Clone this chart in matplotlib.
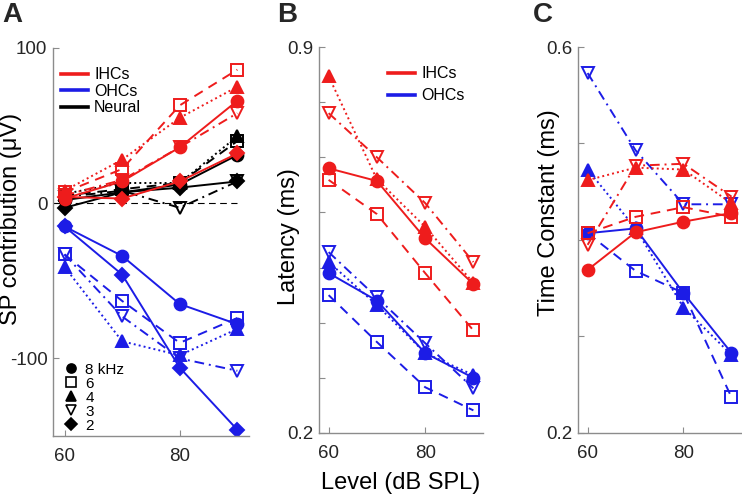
"""SP contribution / latency / time constant vs level, IHC vs OHC (3 panels)."""
import matplotlib
matplotlib.use('Agg')
import matplotlib.pyplot as plt
from matplotlib.lines import Line2D

plt.rcParams['font.family'] = ['Liberation Sans', 'DejaVu Sans']

# === data ===
LEVELS = [60, 70, 80, 90]
FREQS = [8, 6, 4, 3, 2]           # kHz, one row per frequency
FREQ_LABELS = ['8 kHz', '6', '4', '3', '2']

# panel A: SP contribution (uV)
SP_IHC = [[3, 14, 36, 66],
          [7, 22, 63, 86],
          [8, 28, 55, 75],
          [5, 15, 36, 58],
          [4, 3, 14, 32]]
SP_OHC = [[-15, -34, -65, -78],
          [-33, -63, -90, -74],
          [-41, -89, -98, -81],
          [-33, -73, -100, -108],
          [-15, -46, -106, -146]]
SP_NEURAL = [[2, 7, 12, 31],
             [5, 9, 13, 40],
             [6, 13, 13, 43],
             [4, 8, -3, 14],
             [-3, 7, 10, 14]]

# panel B: latency (ms), 8/6/4/3 kHz
LAT_IHC = [[0.680, 0.657, 0.553, 0.470],
           [0.659, 0.597, 0.490, 0.386],
           [0.847, 0.660, 0.574, 0.472],
           [0.780, 0.700, 0.617, 0.510]]
LAT_OHC = [[0.490, 0.440, 0.345, 0.300],
           [0.450, 0.365, 0.283, 0.241],
           [0.510, 0.432, 0.345, 0.305],
           [0.528, 0.446, 0.363, 0.281]]

# panel C: time constant (ms), 8/6/4/3 kHz
TAU_IHC = [[0.369, 0.408, 0.419, 0.428],
           [0.407, 0.424, 0.434, 0.424],
           [0.462, 0.475, 0.473, 0.438],
           [0.395, 0.477, 0.479, 0.445]]
TAU_OHC = [[0.407, 0.412, 0.345, 0.283],
           [0.407, 0.368, 0.345, 0.237],
           [0.473, 0.412, 0.330, 0.281],
           [0.573, 0.493, 0.437, 0.437]]

# === style ===
RED = '#ee1c1c'
BLUE = '#1c1ce6'
BLACK = '#000000'
AXIS_GRAY = '#8c8c8c'
TEXT = '#262626'
TICK_SIZE = 13.5
LABEL_SIZE = 17
LEG_SIZE = 11.5

MARKERS = {8: 'o', 6: 's', 4: '^', 3: 'v', 2: 'D'}
LINESTYLES = {8: '-', 6: (0, (5, 3.5)), 4: (0, (1, 1.6)), 3: (0, (5, 2.5, 1, 2.5)), 2: '-'}
FILLED = {8: True, 6: False, 4: True, 3: False, 2: True}
MSIZE = {8: 8.5, 6: 8, 4: 9, 3: 9, 2: 7.5}


def style_axes(ax, ylim, yticks, ylabels):
    for s in ('top', 'right'):
        ax.spines[s].set_visible(False)
    for s in ('left', 'bottom'):
        ax.spines[s].set_color(AXIS_GRAY)
        ax.spines[s].set_linewidth(1.0)
    ax.set_xlim(58, 92)
    ax.set_ylim(*ylim)
    ax.set_xticks([60, 80])
    ax.set_yticks(yticks)
    ax.set_yticklabels(ylabels)
    ax.tick_params(direction='in', length=4, colors=AXIS_GRAY,
                   labelcolor=TEXT, labelsize=TICK_SIZE)
    ax.tick_params(axis='x', pad=9)
    ax.tick_params(axis='y', pad=4)


def draw_group(ax, rows, color, freqs):
    for f, vals in zip(freqs, rows):
        ax.plot(LEVELS, vals, color=color, lw=1.4,
                linestyle=LINESTYLES[f], marker=MARKERS[f],
                ms=MSIZE[f], mew=1.4, mec=color,
                mfc=color if FILLED[f] else 'none')


def main():
    fig = plt.figure(figsize=(7.42, 4.99), dpi=100)
    ax_a = fig.add_axes([0.0714, 0.1263, 0.264, 0.7776])
    ax_b = fig.add_axes([0.4299, 0.1323, 0.2211, 0.7735])
    ax_c = fig.add_axes([0.779, 0.1323, 0.2197, 0.7735])

    # --- A ---
    ax_a.hlines(0, 58, 90, colors=BLACK, lw=0.8, linestyles=(0, (6, 4)))
    draw_group(ax_a, SP_NEURAL, BLACK, FREQS)
    draw_group(ax_a, SP_OHC, BLUE, FREQS)
    draw_group(ax_a, SP_IHC, RED, FREQS)
    style_axes(ax_a, (-150, 100), [-100, 0, 100], ['-100', '0', '100'])
    ax_a.set_ylabel('SP contribution (\u03bcV)', fontsize=LABEL_SIZE, color=BLACK)
    ax_a.yaxis.set_label_coords(-0.215, 0.56)
    ax_a.yaxis.label.set_va('center')

    cell_handles = [Line2D([], [], color=c, lw=2.6) for c in (RED, BLUE, BLACK)]
    leg1 = ax_a.legend(cell_handles, ['IHCs', 'OHCs', 'Neural'], loc='upper left',
                       bbox_to_anchor=(-0.01, 0.975), frameon=False,
                       fontsize=LEG_SIZE, handlelength=1.7, handletextpad=0.4,
                       labelspacing=0.1, borderaxespad=0.2)
    ax_a.add_artist(leg1)
    freq_handles = [Line2D([], [], color=BLACK, ls='none', marker=MARKERS[f],
                           ms=6.5, mew=1.2,
                           mfc=BLACK if FILLED[f] else 'none') for f in FREQS]
    ax_a.legend(freq_handles, FREQ_LABELS, loc='lower left',
                bbox_to_anchor=(0.01, -0.015), frameon=False,
                fontsize=11, handlelength=0.9, handletextpad=0.5,
                labelspacing=0.0, borderaxespad=0.2)

    # --- B ---
    draw_group(ax_b, LAT_OHC, BLUE, FREQS[:4])
    draw_group(ax_b, LAT_IHC, RED, FREQS[:4])
    yt = [0.2, 0.3, 0.4, 0.5, 0.6, 0.7, 0.8, 0.9]
    style_axes(ax_b, (0.2, 0.9), yt, ['0.2'] + [''] * 6 + ['0.9'])
    ax_b.set_ylabel('Latency (ms)', fontsize=LABEL_SIZE, color=BLACK)
    ax_b.yaxis.set_label_coords(-0.18, 0.51)
    ax_b.yaxis.label.set_va('center')
    ax_b.set_xlabel('Level (dB SPL)', fontsize=LABEL_SIZE, color=BLACK)
    ax_b.xaxis.set_label_coords(0.5, -0.13)
    ax_b.xaxis.label.set_va('center')
    ax_b.legend(cell_handles[:2], ['IHCs', 'OHCs'], loc='upper left',
                bbox_to_anchor=(0.36, 0.975), frameon=False,
                fontsize=LEG_SIZE, handlelength=1.7, handletextpad=0.4,
                labelspacing=0.45, borderaxespad=0.2)

    # --- C ---
    draw_group(ax_c, TAU_OHC, BLUE, FREQS[:4])
    draw_group(ax_c, TAU_IHC, RED, FREQS[:4])
    yt = [0.2, 0.3, 0.4, 0.5, 0.6]
    style_axes(ax_c, (0.2, 0.6), yt, ['0.2', '', '', '', '0.6'])
    ax_c.set_ylabel('Time Constant (ms)', fontsize=LABEL_SIZE, color=BLACK)
    ax_c.yaxis.set_label_coords(-0.18, 0.57)
    ax_c.yaxis.label.set_va('center')

    # panel letters
    for x, letter in ((0.003, 'A'), (0.374, 'B'), (0.718, 'C')):
        fig.text(x, 0.995, letter, fontsize=20, fontweight='bold',
                 color=TEXT, ha='left', va='top')

    fig.savefig('out.png', dpi=100, facecolor='white')


if __name__ == '__main__':
    main()
